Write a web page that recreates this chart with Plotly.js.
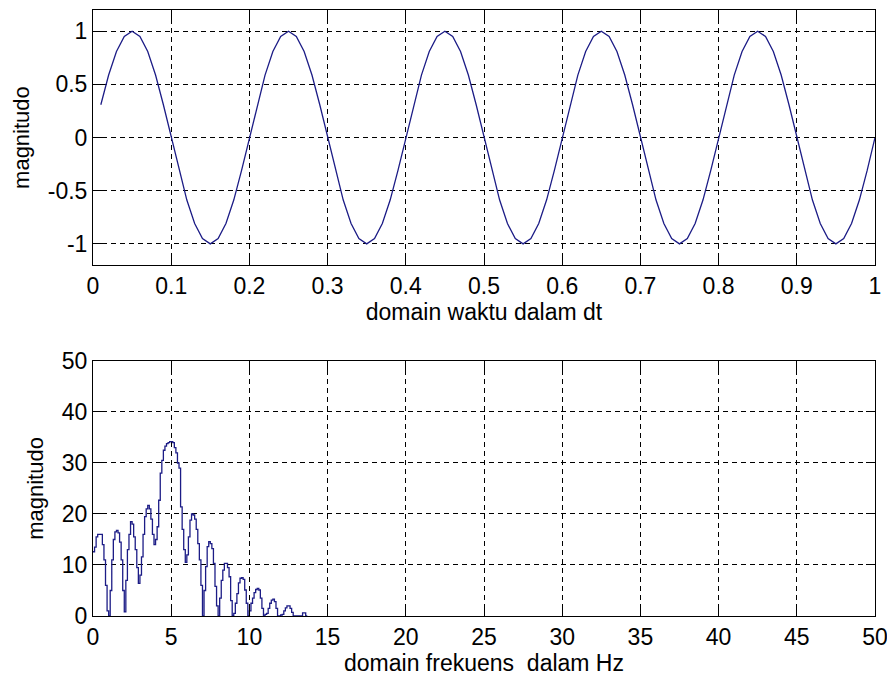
<!DOCTYPE html>
<html>
<head>
<meta charset="utf-8">
<script src="https://cdn.plot.ly/plotly-3.0.1.min.js"></script>
<style>
  html, body { margin: 0; padding: 0; background: #ffffff; }
  #chart { width: 887px; height: 677px; }
</style>
</head>
<body>
<div id="chart"></div>
<script>
// ---- Top panel: time-domain signal (t = 0.01 .. 1.00 s, step 0.01) ----
var timeStart = 0.01;
var timeStep = 0.01;
var signalValues = [
  0.309, 0.588, 0.809, 0.951, 1.000, 0.951, 0.809, 0.588, 0.309, 0.000,
  -0.309, -0.588, -0.809, -0.951, -1.000, -0.951, -0.809, -0.588, -0.309, 0.000,
  0.309, 0.588, 0.809, 0.951, 1.000, 0.951, 0.809, 0.588, 0.309, 0.000,
  -0.309, -0.588, -0.809, -0.951, -1.000, -0.951, -0.809, -0.588, -0.309, 0.000,
  0.309, 0.588, 0.809, 0.951, 1.000, 0.951, 0.809, 0.588, 0.309, 0.000,
  -0.309, -0.588, -0.809, -0.951, -1.000, -0.951, -0.809, -0.588, -0.309, 0.000,
  0.309, 0.588, 0.809, 0.951, 1.000, 0.951, 0.809, 0.588, 0.309, 0.000,
  -0.309, -0.588, -0.809, -0.951, -1.000, -0.951, -0.809, -0.588, -0.309, 0.000,
  0.309, 0.588, 0.809, 0.951, 1.000, 0.951, 0.809, 0.588, 0.309, 0.000,
  -0.309, -0.588, -0.809, -0.951, -1.000, -0.951, -0.809, -0.588, -0.309, 0.000
];

// ---- Bottom panel: magnitude spectrum (f = 0 .. 13.7 Hz, step 0.1) ----
var freqStart = 0;
var freqStep = 0.1;
var spectrumValues = [
  12.6, 13.5, 15.5, 16.0, 16.0, 16.0, 14.0, 11.0, 6.0, 1.0,
  0.0, 5.0, 11.0, 15.0, 16.5, 16.8, 16.3, 14.5, 11.0, 5.0,
  0.8, 7.0, 13.0, 16.0, 18.5, 18.0, 15.5, 13.0, 9.5, 6.4,
  8.0, 11.6, 16.0, 19.5, 21.0, 21.7, 21.0, 19.0, 16.0, 14.0,
  15.0, 17.5, 22.7, 28.0, 30.5, 32.5, 33.3, 33.8, 34.0, 34.2,
  34.2, 34.0, 33.0, 32.0, 30.0, 29.0, 21.4, 17.0, 13.0, 10.5,
  12.0, 15.5, 18.8, 20.0, 19.8, 19.0, 17.0, 14.2, 11.0, 6.0,
  0.0, 5.0, 9.7, 13.6, 14.6, 14.2, 13.2, 10.3, 5.8, 2.0,
  0.0, 3.5, 7.0, 9.0, 10.3, 10.3, 9.5, 7.7, 3.0, 0.0,
  0.5, 2.5, 4.4, 6.5, 7.4, 7.5, 7.2, 5.1, 2.5, 0.0,
  1.0, 2.5, 3.5, 4.6, 5.2, 5.4, 5.1, 3.5, 1.5, 0.0,
  0.3, 0.5, 1.5, 2.5, 3.1, 3.3, 2.8, 1.5, 0.0, 0.0,
  0.2, 0.3, 1.0, 1.6, 2.0, 2.0, 1.5, 0.7, 0.0, 0.0,
  0.0, 0.0, 0.0, 0.0, 0.6, 0.6, 0.0, 0.0
];

// ---- Tick labels / ranges ----
var timeTicks = [0, 0.1, 0.2, 0.3, 0.4, 0.5, 0.6, 0.7, 0.8, 0.9, 1];
var timeTickText = ["0", "0.1", "0.2", "0.3", "0.4", "0.5", "0.6", "0.7", "0.8", "0.9", "1"];
var signalTicks = [-1, -0.5, 0, 0.5, 1];
var signalTickText = ["-1", "-0.5", "0", "0.5", "1"];
var freqTicks = [0, 5, 10, 15, 20, 25, 30, 35, 40, 45, 50];
var magTicks = [0, 10, 20, 30, 40, 50];

var timeLabel = "domain waktu dalam dt";
var signalLabel = "magnitudo";
var freqLabel = "domain frekuens\u00a0 dalam Hz";
var magLabel = "magnitudo";

var FONT = "Liberation Sans, Arial, Helvetica, sans-serif";
var LINE = "#1c1c86";

function axisBase() {
  return {
    showline: true, linecolor: "#000", linewidth: 1, mirror: "ticks",
    ticks: "inside", ticklen: 9, tickwidth: 1, tickcolor: "#000",
    showgrid: true, gridcolor: "#000", gridwidth: 1, griddash: "5px,4px",
    zeroline: false, ticklabeloverflow: "allow",
    tickfont: { family: FONT, size: 23, color: "#000" },
    fixedrange: true
  };
}

var xa1 = Object.assign(axisBase(), {
  domain: [0, 1], anchor: "y", range: [0, 1],
  tickmode: "array", tickvals: timeTicks, ticktext: timeTickText,
  title: { text: timeLabel, font: { family: FONT, size: 23, color: "#000" }, standoff: 4 }
});
var ya1 = Object.assign(axisBase(), {
  domain: [0.579, 1], anchor: "x", range: [-1.2, 1.2],
  tickmode: "array", tickvals: signalTicks, ticktext: signalTickText,
  title: { text: signalLabel, font: { family: FONT, size: 22, color: "#000" }, standoff: 12 }
});
var xa2 = Object.assign(axisBase(), {
  domain: [0, 1], anchor: "y2", range: [0, 50],
  tickmode: "array", tickvals: freqTicks,
  title: { text: freqLabel, font: { family: FONT, size: 23, color: "#000" }, standoff: 4 }
});
var ya2 = Object.assign(axisBase(), {
  domain: [0, 0.4208], anchor: "x2", range: [0, 50],
  tickmode: "array", tickvals: magTicks,
  title: { text: magLabel, font: { family: FONT, size: 22, color: "#000" }, standoff: 12 }
});

var traces = [
  {
    type: "scatter", mode: "lines", xaxis: "x", yaxis: "y",
    x0: timeStart, dx: timeStep, y: signalValues,
    line: { color: LINE, width: 1.3 }, hoverinfo: "skip", showlegend: false
  },
  {
    type: "scatter", mode: "lines", xaxis: "x2", yaxis: "y2",
    x0: freqStart, dx: freqStep, y: spectrumValues,
    line: { color: LINE, width: 1.3, shape: "hv" }, hoverinfo: "skip", showlegend: false
  }
];

var layout = {
  width: 887, height: 677,
  margin: { l: 93, r: 12, t: 10, b: 61 },
  paper_bgcolor: "#ffffff", plot_bgcolor: "#ffffff",
  font: { family: FONT, color: "#000" },
  showlegend: false,
  xaxis: xa1, yaxis: ya1, xaxis2: xa2, yaxis2: ya2
};

Plotly.newPlot("chart", traces, layout, { staticPlot: true, displayModeBar: false });
</script>
</body>
</html>
